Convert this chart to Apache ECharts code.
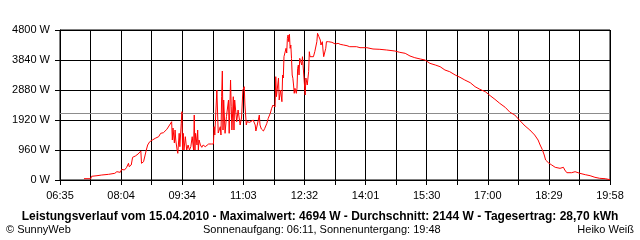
<!DOCTYPE html>
<html>
<head>
<meta charset="utf-8">
<script src="https://cdn.jsdelivr.net/npm/echarts@6/dist/echarts.min.js"></script>
<style>
html,body{margin:0;padding:0;background:#fff;}
#c{width:640px;height:240px;}
</style>
</head>
<body>
<div id="c"></div>
<script>
// ---- data ----
const axisStart = '06:35';
const axisEnd = '19:58';
const xTickLabels = ['06:35','08:04','09:34','11:03','12:32','14:01','15:30','17:00','18:29','19:58'];
const yTicks = [0, 960, 1920, 2880, 3840, 4800];
const averageW = 2144;

const times = [
'07:10','07:20','07:21','07:29','07:36','07:46','07:55','07:58','08:03','08:05',
'08:09','08:12','08:15','08:16','08:19','08:21','08:25','08:29','08:33','08:34',
'08:37','08:39','08:41','08:43','08:46','08:50','08:54','08:59','09:02','09:06',
'09:11','09:15','09:18','09:19','09:20','09:22','09:23','09:24','09:26','09:27',
'09:29','09:30','09:32','09:33','09:34','09:35','09:36','09:38','09:40','09:42',
'09:44','09:46','09:48','09:50','09:51','09:52','09:53','09:55','09:56','09:57',
'09:58','10:00','10:02','10:04','10:07','10:09','10:12','10:14','10:16','10:19',
'10:20','10:21','10:24','10:26','10:27','10:29','10:30','10:31','10:32','10:33',
'10:34','10:36','10:38','10:41','10:42','10:44','10:45','10:46','10:48','10:49',
'10:50','10:53','10:55','10:58','11:00','11:02','11:04','11:05','11:07','11:08',
'11:12','11:17','11:20','11:21','11:23','11:26','11:27','11:29','11:32','11:34',
'11:37','11:39','11:42','11:44','11:46','11:47','11:49','11:50','11:51','11:54',
'11:55','11:57','11:59','12:00','12:01','12:02','12:03','12:05','12:06','12:07',
'12:08','12:09','12:10','12:11','12:12','12:13','12:14','12:15','12:16','12:17',
'12:18','12:20','12:21','12:22','12:23','12:24','12:25','12:27','12:28','12:29',
'12:30','12:33','12:34','12:36','12:38','12:39','12:40','12:42','12:45','12:47',
'12:49','12:50','12:51','12:53','12:55','12:56','12:58','12:59','13:00','13:02',
'13:03','13:04','13:07','13:12','13:14','13:17','13:19','13:21','13:24','13:29',
'13:34','13:38','13:48','13:53','14:03','14:12','14:22','14:32','14:44','14:51',
'14:59','15:06','15:13','15:21','15:28','15:35','15:43','15:50','15:57','16:04',
'16:12','16:19','16:26','16:34','16:41','16:48','16:56','17:03','17:10','17:17',
'17:25','17:32','17:39','17:47','17:54','18:01','18:08','18:13','18:16','18:19',
'18:22','18:24','18:28','18:33','18:38','18:45','18:50','18:52','18:55','19:02',
'19:07','19:14','19:22','19:29','19:36','19:43','19:51','19:58'
];
const watts = [
42,42,118,138,160,182,214,266,246,342,
320,394,534,426,480,726,768,832,928,534,
586,586,960,1120,1226,1280,1334,1386,1494,1514,
1622,1760,1866,1280,1664,1184,1600,1280,960,854,
1494,1066,1814,2186,960,1494,960,1386,960,1120,
960,1066,1386,960,2080,960,1494,1120,1600,960,
1280,1120,1046,1120,1066,1120,1152,1174,1152,1152,
1706,1440,2880,1504,1440,1706,1440,2666,3488,1600,
2560,1494,2026,2560,1494,3200,2346,1600,2666,1600,
2560,1866,2240,1760,1984,2880,2986,2400,1760,1866,
1846,1920,1760,1568,1760,2080,1760,1632,1568,1654,
1814,1974,2134,2294,2400,2454,2336,3306,2666,3264,
2560,2880,2506,3360,3264,3946,3904,4214,4064,4534,
4640,4426,4662,4214,4320,3894,3360,3254,3040,2774,
2934,2774,2934,3574,3680,3360,3894,3946,3680,3946,
3894,2720,3264,3040,3466,4106,3946,4000,3946,4106,
4320,4426,4694,4586,4480,4320,4426,4160,3946,3946,
4214,4426,4426,4406,4374,4352,4298,4374,4342,4320,
4298,4266,4266,4234,4234,4192,4182,4160,4128,4086,
4054,3968,3914,3872,3840,3734,3680,3626,3520,3466,
3360,3286,3200,3114,2986,2902,2826,2700,2582,2454,
2326,2166,2080,1888,1728,1600,1440,1280,1120,982,
800,640,554,480,406,374,406,320,234,234,
266,214,170,138,86,54,42,10
];

const titleText = 'Leistungsverlauf vom 15.04.2010 - Maximalwert: 4694 W - Durchschnitt: 2144 W - Tagesertrag: 28,70 kWh';
const footLeft = '\u00A9 SunnyWeb';
const footMid = 'Sonnenaufgang: 06:11, Sonnenuntergang: 19:48';
const footRight = 'Heiko Wei\u00DF';

// ---- helpers ----
function toMin(s){ const p = s.split(':'); return (+p[0])*60 + (+p[1]); }
const nDiv = (xTickLabels.length - 1) * 2; // 18 grid divisions
const t0 = toMin(axisStart), t1 = toMin(axisEnd);
// x axis unit = one grid division
function toAxis(s){ return (toMin(s) - t0) / (t1 - t0) * nDiv; }
const seriesData = times.map((t,i) => [toAxis(t), watts[i]]);

const font = 'Liberation Sans, Arial, sans-serif';
const chart = echarts.init(document.getElementById('c'), null, {renderer:'canvas'});
chart.setOption({
  backgroundColor: '#fff',
  animation: false,
  title: [
    {text: titleText, left: 'center', top: 211, padding: 0,
     textStyle: {fontSize: 12, fontWeight: 'bold', color: '#000', fontFamily: font}},
    {text: footLeft, left: 6, top: 224, padding: 0,
     textStyle: {fontSize: 11, fontWeight: 'normal', color: '#000', fontFamily: font}},
    {text: footMid, left: 203, top: 224, padding: 0,
     textStyle: {fontSize: 11, fontWeight: 'normal', color: '#000', fontFamily: font}},
    {text: footRight, right: 6, top: 224, padding: 0,
     textStyle: {fontSize: 11, fontWeight: 'normal', color: '#000', fontFamily: font}}
  ],
  grid: {left: 60, right: 30, top: 30, bottom: 60, show: true, borderColor: '#000', borderWidth: 1, backgroundColor: '#fff'},
  xAxis: {
    type: 'value', min: 0, max: nDiv, interval: 1,
    axisLine: {show: true, lineStyle: {color: '#000', width: 1}},
    axisTick: {show: true, length: 5, lineStyle: {color: '#000'}},
    splitLine: {show: true, lineStyle: {color: '#000', width: 1}},
    axisLabel: {
      color: '#000', fontSize: 11, fontFamily: font, margin: 10,
      showMinLabel: true, showMaxLabel: true, hideOverlap: false,
      formatter: function(v){ const k = Math.round(v); return k % 2 === 0 ? xTickLabels[k/2] : ''; }
    }
  },
  yAxis: {
    type: 'value', min: yTicks[0], max: yTicks[yTicks.length-1], interval: yTicks[1]-yTicks[0],
    axisLine: {show: true, lineStyle: {color: '#000', width: 1}},
    axisTick: {show: true, length: 5, lineStyle: {color: '#000'}},
    splitLine: {show: true, lineStyle: {color: '#000', width: 1}},
    axisLabel: {color: '#000', fontSize: 11, fontFamily: font, margin: 10,
      formatter: function(v){ return v + ' W'; }}
  },
  series: [{
    type: 'line', data: seriesData, showSymbol: false, symbol: 'none',
    lineStyle: {color: '#ff0000', width: 1}, itemStyle: {color: '#ff0000'},
    z: 3,
    markLine: {
      silent: true, symbol: 'none', label: {show: false},
      lineStyle: {color: '#8c8c8c', width: 1, type: 'solid'},
      data: [{yAxis: averageW}], z: 2
    }
  }]
});
</script>
</body>
</html>
